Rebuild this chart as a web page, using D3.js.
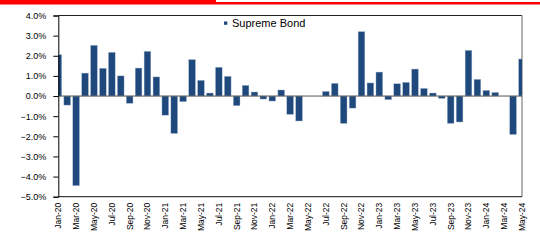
<!DOCTYPE html>
<html>
<head>
<meta charset="utf-8">
<script src="https://cdn.jsdelivr.net/npm/d3@7"></script>
<style>
  body { margin: 0; background: #fff; }
  svg { display: block; font-family: "Liberation Sans", Arial, sans-serif; }
</style>
</head>
<body>
<svg width="540" height="241"></svg>
<script>
// monthly returns, Jan-20 .. May-24 (%)
var months = [];
var years = ["20", "21", "22", "23", "24"];
var monthNames = ["Jan", "Feb", "Mar", "Apr", "May", "Jun", "Jul", "Aug", "Sep", "Oct", "Nov", "Dec"];
years.forEach(function(yr) {
  monthNames.forEach(function(m) { months.push(m + "-" + yr); });
});
months = months.slice(0, 53);

var returns2020 = [2.05, -0.45, -4.45, 1.14, 2.52, 1.38, 2.17, 1.00, -0.36, 1.39, 2.22, 0.95];
var returns2021 = [-0.95, -1.86, -0.28, 1.81, 0.78, 0.15, 1.43, 0.98, -0.48, 0.53, 0.20, -0.15];
var returns2022 = [-0.25, 0.30, -0.91, -1.24, 0.00, 0.00, 0.23, 0.63, -1.36, -0.60, 3.20, 0.65];
var returns2023 = [1.19, -0.18, 0.61, 0.68, 1.34, 0.38, 0.15, -0.12, -1.36, -1.29, 2.27, 0.83];
var returns2024 = [0.28, 0.18, 0.00, -1.91, 1.84];
var returns = [].concat(returns2020, returns2021, returns2022, returns2023, returns2024);

var yTicks = [4, 3, 2, 1, 0, -1, -2, -3, -4, -5];
var seriesName = "Supreme Bond";

var data = months.map(function(m, i) { return {month: m, value: returns[i]}; });

var svg = d3.select("svg"),
    margin = {top: 15.5, left: 58.3, right: 18, bottom: 44.3},
    width = 540 - margin.left - margin.right,
    height = 241 - margin.top - margin.bottom;

// red banner at the top
svg.append("rect").attr("x", 0).attr("y", 0).attr("width", 540).attr("height", 4.5).attr("fill", "#ff0000");
svg.append("rect").attr("x", 216).attr("y", 0).attr("width", 324).attr("height", 2).attr("fill", "#fff");

var g = svg.append("g").attr("transform", "translate(" + margin.left + "," + margin.top + ")");

var x = d3.scalePoint()
    .domain(months)
    .range([0, width]);

var y = d3.scaleLinear()
    .domain([-5, 4])
    .range([height, 0]);

var barW = 6.7;

g.append("defs").append("clipPath")
    .attr("id", "clip")
  .append("rect")
    .attr("width", width)
    .attr("height", height);

// frame: top dark, right grey, bottom black
g.append("line").attr("x1", 0).attr("x2", width).attr("y1", 0).attr("y2", 0)
    .attr("stroke", "#222").attr("stroke-width", 1);
g.append("line").attr("x1", width).attr("x2", width).attr("y1", 0).attr("y2", height)
    .attr("stroke", "#808080").attr("stroke-width", 1.2);
g.append("line").attr("x1", 0).attr("x2", width).attr("y1", height).attr("y2", height)
    .attr("stroke", "#111").attr("stroke-width", 1);

g.append("g")
    .attr("clip-path", "url(#clip)")
  .selectAll("rect")
  .data(data)
  .enter().append("rect")
    .attr("x", function(d) { return x(d.month) - barW / 2; })
    .attr("width", barW)
    .attr("y", function(d) { return y(Math.max(0, d.value)); })
    .attr("height", function(d) { return Math.abs(y(d.value) - y(0)); })
    .attr("fill", "#1f497d")
    .attr("stroke", "#a9bbd3")
    .attr("stroke-width", 0.4);

// zero line
g.append("line")
    .attr("x1", 0).attr("x2", width)
    .attr("y1", y(0)).attr("y2", y(0))
    .attr("stroke", "#555").attr("stroke-width", 1);

// y axis
var yAxis = g.append("g")
    .call(d3.axisLeft(y).tickValues(yTicks).tickSize(5).tickPadding(7)
      .tickFormat(function(d) { return d3.format(".1f")(d) + "%"; }));
yAxis.select(".domain").attr("stroke", "#000");
yAxis.selectAll("line").attr("stroke", "#000");
yAxis.selectAll("text").attr("font-size", "9px").attr("fill", "#000")
    .attr("font-family", "Liberation Sans, Arial, sans-serif");

// x labels every other month, rotated
var xLabels = months.filter(function(m, i) { return i % 2 === 0; });
g.append("g")
    .attr("transform", "translate(0," + height + ")")
  .selectAll("text")
  .data(xLabels)
  .enter().append("text")
    .attr("transform", function(d) { return "translate(" + (x(d) + 3) + ",6) rotate(-90)"; })
    .attr("text-anchor", "end")
    .attr("font-size", "8.5px")
    .attr("fill", "#000")
    .text(function(d) { return d; });

// legend
var legend = svg.append("g").attr("transform", "translate(224,21.5)");
legend.append("rect").attr("width", 3.3).attr("height", 3.3).attr("fill", "#1f497d");
legend.append("text").attr("x", 8).attr("y", 5.8)
    .attr("font-size", "11px").attr("fill", "#000")
    .text(seriesName);
</script>
</body>
</html>
